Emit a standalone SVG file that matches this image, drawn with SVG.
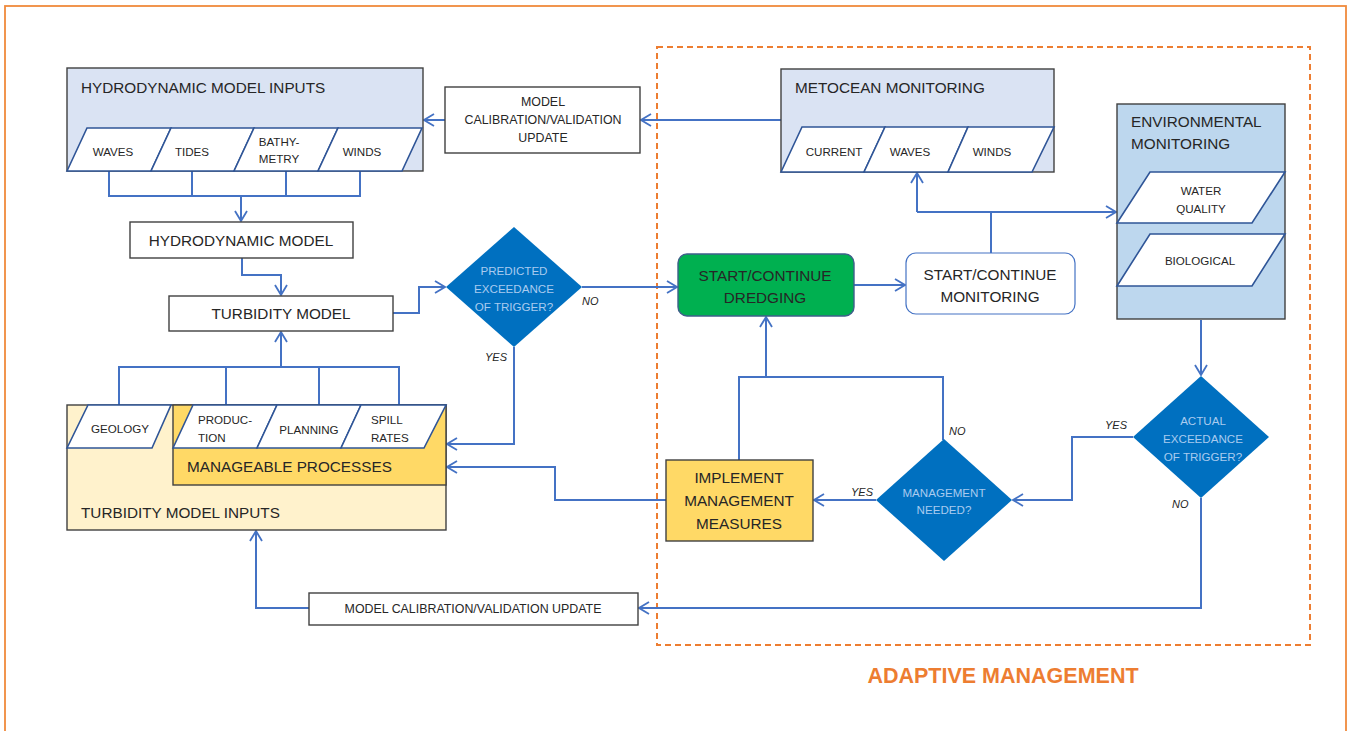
<svg xmlns="http://www.w3.org/2000/svg" width="1351" height="731" viewBox="0 0 1351 731">
  <defs>
    <marker id="arrow" viewBox="0 0 12 14" refX="11" refY="7" markerWidth="12" markerHeight="14" markerUnits="userSpaceOnUse" orient="auto">
      <path d="M1,1 L11,7 L1,13" fill="none" stroke="#4472C4" stroke-width="1.8"/>
    </marker>
    <style>
      text { font-family: "Liberation Sans", Arial, sans-serif; fill: #262626; }
      .big { font-size: 15.3px; }
      .small { font-size: 11.6px; }
      .mid { font-size: 12.4px; }
      .dq { font-size: 11.6px; fill: #A9CBEF; }
      .yn { font-size: 11px; font-style: italic; }
      .c { text-anchor: middle; }
      .box { stroke: #404040; stroke-width: 1.4; }
      .para { fill: #FFFFFF; stroke: #2F5597; stroke-width: 1.6; }
      .dia { fill: #0070C0; }
      .conn path { fill: none; stroke: #4472C4; stroke-width: 2; }
    </style>
  </defs>
  <rect width="1351" height="731" fill="#FFFFFF"/>

  <!-- outer frame and adaptive management zone -->
  <rect x="5" y="6" width="1341" height="740" fill="none" stroke="#F08A3C" stroke-width="1.8"/>
  <rect x="657" y="47" width="653" height="598" fill="none" stroke="#ED7D31" stroke-width="2" stroke-dasharray="6 4"/>
  <text x="1003" y="683" class="c" style="font-size:21.5px;font-weight:bold;fill:#ED7D31">ADAPTIVE MANAGEMENT</text>

  <!-- connectors -->
  <g id="connectors" class="conn">
    <path d="M109,171 V196 H360 V171 M192,171 V196 M286,171 V196"/>
    <path d="M241,196 V221" marker-end="url(#arrow)"/>
    <path d="M242,258 V275 H281 V295" marker-end="url(#arrow)"/>
    <path d="M119,405 V367 H399 V405 M226,405 V367 M319,405 V367"/>
    <path d="M281,367 V332" marker-end="url(#arrow)"/>
    <path d="M393,313 H419 V287 H445" marker-end="url(#arrow)"/>
    <path d="M582,287 H677" marker-end="url(#arrow)"/>
    <path d="M514,347 V444 H447" marker-end="url(#arrow)"/>
    <path d="M667,500 H555 V467 H447" marker-end="url(#arrow)"/>
    <path d="M1201,498 V608 H639" marker-end="url(#arrow)"/>
    <path d="M309,608 H256 V531" marker-end="url(#arrow)"/>
    <path d="M781,120 H641" marker-end="url(#arrow)"/>
    <path d="M445,120 H424" marker-end="url(#arrow)"/>
    <path d="M854,285 H905" marker-end="url(#arrow)"/>
    <path d="M991,253 V212"/>
    <path d="M917,212 H1116" marker-end="url(#arrow)"/>
    <path d="M917,212 V173" marker-end="url(#arrow)"/>
    <path d="M1201,320 V375" marker-end="url(#arrow)"/>
    <path d="M1133,437 H1072 V500 H1013" marker-end="url(#arrow)"/>
    <path d="M876,500 H814" marker-end="url(#arrow)"/>
    <path d="M739,460 V377 H943 V440"/>
    <path d="M766,377 V317" marker-end="url(#arrow)"/>
  </g>

  <!-- hydrodynamic model inputs -->
  <g id="hydro-inputs">
    <rect x="67" y="68" width="356" height="103" fill="#DAE3F3" class="box"/>
    <text x="81" y="93" class="big">HYDRODYNAMIC MODEL INPUTS</text>
    <polygon class="para" points="67,171 87,128 171,128 151,171"/>
    <polygon class="para" points="151,171 171,128 254,128 234,171"/>
    <polygon class="para" points="234,171 254,128 338,128 318,171"/>
    <polygon class="para" points="318,171 338,128 422,128 402,171"/>
    <text x="113" y="156" class="small c">WAVES</text>
    <text x="192" y="156" class="small c">TIDES</text>
    <text x="279" y="146" class="small c">BATHY-</text>
    <text x="279" y="163" class="small c">METRY</text>
    <text x="362" y="156" class="small c">WINDS</text>
  </g>

  <g id="hydro-model">
    <rect x="130" y="222" width="223" height="36" fill="#FFFFFF" class="box"/>
    <text x="241" y="246" class="big c">HYDRODYNAMIC MODEL</text>
  </g>

  <g id="turbidity-model">
    <rect x="169" y="296" width="224" height="35" fill="#FFFFFF" class="box"/>
    <text x="281" y="319" class="big c">TURBIDITY MODEL</text>
  </g>

  <!-- turbidity model inputs with manageable processes -->
  <g id="turbidity-inputs">
    <rect x="67" y="405" width="379" height="125" fill="#FFF2CC" class="box"/>
    <rect x="173" y="405" width="273" height="80" fill="#FFD966" class="box"/>
    <polygon class="para" points="67,448 88,405 171,405 152,448"/>
    <polygon class="para" points="173,448 193,405 277,405 257,448"/>
    <polygon class="para" points="257,448 277,405 361,405 341,448"/>
    <polygon class="para" points="341,448 361,405 446,405 424,448"/>
    <text x="120" y="433" class="small c">GEOLOGY</text>
    <text x="198" y="424" class="small">PRODUC-</text>
    <text x="198" y="442" class="small">TION</text>
    <text x="309" y="434" class="small c">PLANNING</text>
    <text x="371" y="424" class="small">SPILL</text>
    <text x="371" y="442" class="small">RATES</text>
    <text x="187" y="472" class="big">MANAGEABLE PROCESSES</text>
    <text x="81" y="518" class="big">TURBIDITY MODEL INPUTS</text>
  </g>

  <g id="predicted-exceedance">
    <polygon class="dia" points="514,227 582,287 514,347 446,287"/>
    <text x="514" y="275" class="dq c">PREDICTED</text>
    <text x="514" y="293" class="dq c">EXCEEDANCE</text>
    <text x="514" y="311" class="dq c">OF TRIGGER?</text>
    <text x="582" y="305" class="yn">NO</text>
    <text x="485" y="361" class="yn">YES</text>
  </g>

  <g id="calibration-top">
    <rect x="445" y="87" width="195" height="66" fill="#FFFFFF" class="box"/>
    <text x="543" y="106" class="mid c">MODEL</text>
    <text x="543" y="124" class="mid c">CALIBRATION/VALIDATION</text>
    <text x="543" y="142" class="mid c">UPDATE</text>
  </g>

  <g id="calibration-bottom">
    <rect x="309" y="593" width="329" height="32" fill="#FFFFFF" class="box"/>
    <text x="473" y="613" class="mid c">MODEL CALIBRATION/VALIDATION  UPDATE</text>
  </g>

  <g id="metocean-monitoring">
    <rect x="781" y="69" width="273" height="103" fill="#DAE3F3" class="box"/>
    <text x="795" y="93" class="big">METOCEAN MONITORING</text>
    <polygon class="para" points="781,172 802,127 885,127 864,172"/>
    <polygon class="para" points="864,172 885,127 968,127 948,172"/>
    <polygon class="para" points="948,172 968,127 1054,127 1032,172"/>
    <text x="834" y="156" class="small c">CURRENT</text>
    <text x="910" y="156" class="small c">WAVES</text>
    <text x="992" y="156" class="small c">WINDS</text>
  </g>

  <g id="environmental-monitoring">
    <rect x="1117" y="104" width="168" height="215" fill="#BDD7EE" class="box"/>
    <text x="1131" y="127" class="big">ENVIRONMENTAL</text>
    <text x="1131" y="149" class="big">MONITORING</text>
    <polygon class="para" points="1117,223 1150,172 1285,172 1252,223"/>
    <polygon class="para" points="1117,286 1150,234 1285,234 1252,286"/>
    <text x="1201" y="195" class="small c">WATER</text>
    <text x="1201" y="213" class="small c">QUALITY</text>
    <text x="1200" y="265" class="small c">BIOLOGICAL</text>
  </g>

  <g id="dredging">
    <rect x="678" y="254" width="176" height="62" rx="9" fill="#00B050" stroke="#3E5F8A" stroke-width="1.4"/>
    <text x="765" y="281" class="big c">START/CONTINUE</text>
    <text x="765" y="303" class="big c">DREDGING</text>
  </g>

  <g id="monitoring">
    <rect x="906" y="253" width="169" height="61" rx="10" fill="#FFFFFF" stroke="#4472C4" stroke-width="1.2"/>
    <text x="990" y="280" class="big c">START/CONTINUE</text>
    <text x="990" y="302" class="big c">MONITORING</text>
  </g>

  <g id="actual-exceedance">
    <polygon class="dia" points="1201,376 1269,437 1201,498 1133,437"/>
    <text x="1203" y="425" class="dq c">ACTUAL</text>
    <text x="1203" y="443" class="dq c">EXCEEDANCE</text>
    <text x="1203" y="461" class="dq c">OF TRIGGER?</text>
    <text x="1105" y="429" class="yn">YES</text>
    <text x="1172" y="508" class="yn">NO</text>
  </g>

  <g id="management-needed">
    <polygon class="dia" points="944,439 1012,500 944,561 876,500"/>
    <text x="944" y="497" class="dq c">MANAGEMENT</text>
    <text x="944" y="514" class="dq c">NEEDED?</text>
    <text x="851" y="496" class="yn">YES</text>
    <text x="949" y="435" class="yn">NO</text>
  </g>

  <g id="implement-measures">
    <rect x="666" y="460" width="147" height="81" fill="#FFD966" class="box"/>
    <text x="739" y="483" class="big c">IMPLEMENT</text>
    <text x="739" y="506" class="big c">MANAGEMENT</text>
    <text x="739" y="529" class="big c">MEASURES</text>
  </g>
</svg>
